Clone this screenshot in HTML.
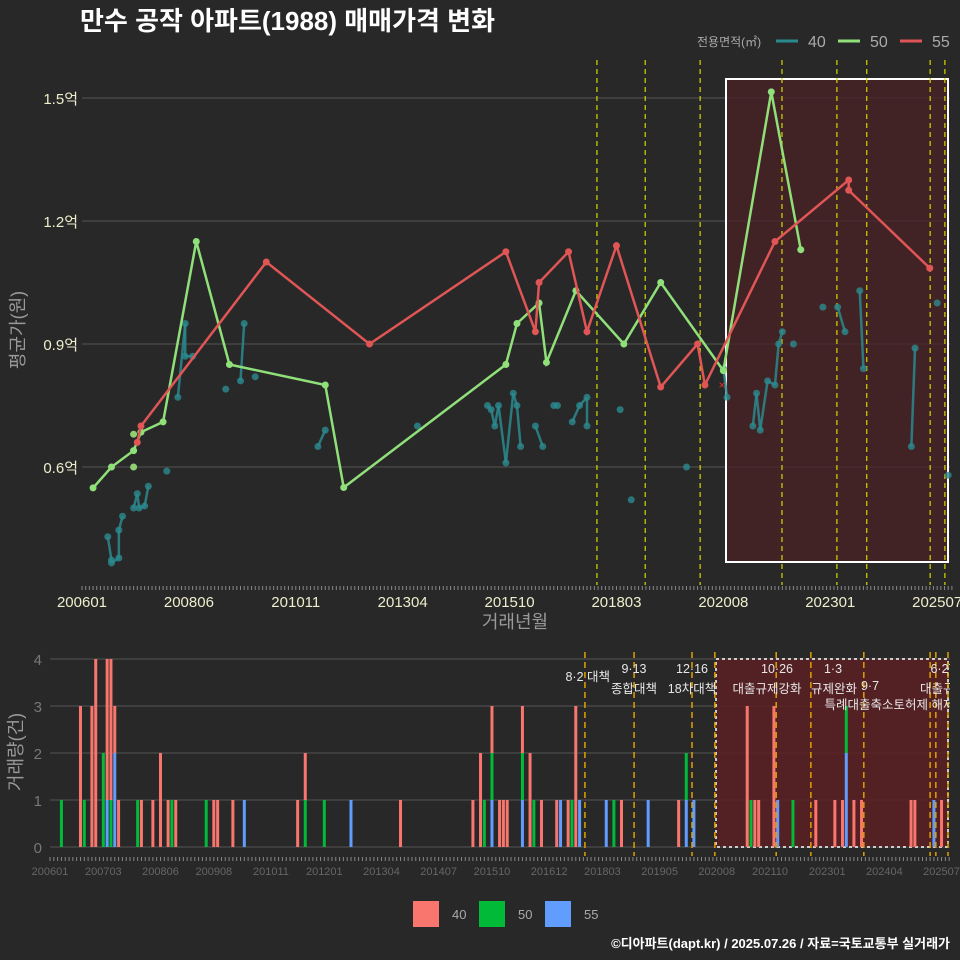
<!DOCTYPE html>
<html><head><meta charset="utf-8">
<style>
body{margin:0;background:#282828;}
svg{display:block;font-family:"Liberation Sans","Noto Sans CJK KR",sans-serif;}
</style></head>
<body>
<svg id="c" width="960" height="960" viewBox="0 0 960 960" xmlns="http://www.w3.org/2000/svg">
<rect x="0" y="0" width="960" height="960" fill="#282828"/>
<text x="80" y="30" fill="#ffffff" font-size="26" font-weight="bold">만수 공작 아파트(1988) 매매가격 변화</text>
<g id="legendTop">
<text x="697" y="46" fill="#aaaaaa" font-size="12">전용면적(㎡)</text>
<line x1="776" y1="41" x2="798" y2="41" stroke="#2a8a8e" stroke-width="3"/>
<text x="808" y="47" fill="#aaaaaa" font-size="16">40</text>
<line x1="838" y1="41" x2="860" y2="41" stroke="#90e07a" stroke-width="3"/>
<text x="870" y="47" fill="#aaaaaa" font-size="16">50</text>
<line x1="900" y1="41" x2="922" y2="41" stroke="#e05555" stroke-width="3"/>
<text x="932" y="47" fill="#aaaaaa" font-size="16">55</text>
</g>
<g id="topG"></g>
<g id="botG"></g>
<g>
<rect x="413" y="901" width="26" height="26" fill="#f8766d"/>
<text x="452" y="919" fill="#aaaaaa" font-size="13">40</text>
<rect x="479" y="901" width="26" height="26" fill="#00ba38"/>
<text x="518" y="919" fill="#aaaaaa" font-size="13">50</text>
<rect x="545" y="901" width="26" height="26" fill="#619cff"/>
<text x="584" y="919" fill="#aaaaaa" font-size="13">55</text>
</g>
<text x="950" y="948" text-anchor="end" fill="#ffffff" font-size="13" font-weight="bold">©디아파트(dapt.kr) / 2025.07.26 / 자료=국토교통부 실거래가</text>
</svg>
<script>
const s50Months=[3,8,14,16,22,31,40,66,71,115,118,124,126,134,147,157,174,187,195];
const s50Values=[0.549,0.60,0.64,0.685,0.71,1.15,0.85,0.80,0.55,0.85,0.95,1.0,0.855,1.03,0.90,1.05,0.835,1.515,1.13];
const s50ExtraMonths=[14,14];
const s50ExtraValues=[0.68,0.60];
const s55Months=[15,16,50,78,115,123,124,132,137,145,157,167,169,188,208,208,230];
const s55Values=[0.66,0.70,1.10,0.90,1.125,0.93,1.05,1.125,0.93,1.14,0.795,0.90,0.80,1.15,1.30,1.275,1.085];
const s40Months=[7,8,8,10,10,11,14,15,15.5,17,18,23,26,28,28,30,39,43,44,47,64,66,91,110,111,112,113,115,117,118,119,123,125,128,129,133,135,137,137,146,149,164,174,175,182,183,184,186,188,189,190,193,201,205,207,211,212,225,226,232,235];
const s40Values=[0.43,0.373,0.366,0.378,0.446,0.48,0.50,0.535,0.50,0.505,0.553,0.59,0.77,0.95,0.87,0.87,0.79,0.81,0.95,0.82,0.65,0.69,0.70,0.75,0.74,0.70,0.75,0.61,0.78,0.75,0.65,0.70,0.65,0.75,0.75,0.71,0.75,0.77,0.70,0.74,0.52,0.60,0.84,0.77,0.70,0.78,0.69,0.81,0.80,0.90,0.93,0.90,0.99,0.99,0.93,1.03,0.84,0.65,0.89,1.0,0.58];
const yTicks=[0.6,0.9,1.2,1.5];
const yTickLabels=["0.6억","0.9억","1.2억","1.5억"];
const xTickMonths=[0,29,58,87,116,145,174,203,232];
const xTickLabels=["200601","200806","201011","201304","201510","201803","202008","202301","202507"];
const policyMonths=[139.7,152.8,167.7,189.9,204.8,212.9,230.1,234.1];
const v40Months=[8,11,12,15,16,17,18,24,27,29,31,33,43,44,48,65,67,92,111,113,116,118,119,120,124,126,129,133,136,138,150,165,183,185,186,190,201,206,208,211,213,226,227,234];
const v40Counts=[3,3,4,3,3,1,1,1,1,2,1,1,1,1,1,1,1,1,1,2,1,1,1,1,1,2,1,1,1,3,1,1,3,1,1,3,1,1,1,1,1,1,1,1];
const v50Months=[3,9,14,16,23,32,41,67,72,114,116,124,127,137,148,167,184,195,209];
const v50Counts=[1,1,2,1,1,1,1,1,1,1,1,1,1,1,1,1,1,1,1];
const v55Months=[15,17,51,79,116,124,134,139,146,157,167,169,191,209,232];
const v55Counts=[1,2,1,1,1,1,1,1,1,1,1,1,1,2,1];
const vTicks=[0,1,2,3,4];
const vTickMonths=[0,14,29,43,58,72,87,102,116,131,145,160,175,189,204,219,234];
const vTickLabels=["200601","200703","200806","200908","201011","201201","201304","201407","201510","201612","201803","201905","202008","202110","202301","202404","202507"];
const vPolicyMonths=[140.4,153.3,168.5,174.5,190.6,199.7,213.6,231,232.5,235.7];

const NS="http://www.w3.org/2000/svg";
function mk(parent,tag,attrs){const e=document.createElementNS(NS,tag);for(const k in attrs)e.setAttribute(k,attrs[k]);parent.appendChild(e);return e;}
const xT=m=>82+m*3.686, yT=v=>467-(v-0.6)*410;
const xB=m=>50+m*3.81, yB=c=>847-c*47;
const topG=document.getElementById('topG'), botG=document.getElementById('botG');

yTicks.forEach((t,i)=>{
 const g=mk(topG,'line',{x1:82,x2:950,y1:yT(t),y2:yT(t),stroke:'#555555','stroke-width':1});
 
 
 const l=mk(topG,'text',{x:78,y:yT(t)+6,'text-anchor':'end',fill:'#eeeecc','font-size':15});
 l.textContent=yTickLabels[i];
 
 
});
const sr=mk(topG,'rect',{x:726,y:79,width:222,height:483,fill:'#4a2226','fill-opacity':0.75,stroke:'#ffffff','stroke-width':2});


policyMonths.forEach(m=>{
 const d=mk(topG,'line',{x1:xT(m),x2:xT(m),y1:60,y2:585,stroke:'#d6d600','stroke-width':1.2,'stroke-dasharray':'5,4'});
 
 
});
for(let m=0;m<=236;m++){
 const t=mk(topG,'line',{x1:xT(m),x2:xT(m),y1:586,y2:590,stroke:'#888','stroke-width':1});
 
 
 const tb=mk(botG,'line',{x1:xB(m),x2:xB(m),y1:857,y2:861,stroke:'#888','stroke-width':1});
 
 
}
xTickMonths.forEach((m,i)=>{
 const l=mk(topG,'text',{x:xT(m),y:607,'text-anchor':'middle',fill:'#eeeecc','font-size':15});
 l.textContent=xTickLabels[i];
 
 
});
const xt=mk(topG,'text',{x:515,y:628,'text-anchor':'middle',fill:'#999','font-size':18});
xt.textContent='거래년월';


const yt=mk(topG,'text',{x:0,y:0,'text-anchor':'middle',fill:'#999','font-size':18,transform:'translate(24,330) rotate(-90)'});
yt.textContent='평균가(원)';



const tealC='#2a8a8e';
for(let i=1;i<s40Months.length;i++){
 const dm=s40Months[i]-s40Months[i-1];
 if(dm<=2){
  const s=mk(topG,'line',{x1:xT(s40Months[i-1]),y1:yT(s40Values[i-1]),x2:xT(s40Months[i]),y2:yT(s40Values[i]),stroke:tealC,'stroke-width':2.5,'stroke-opacity':0.85});
  
  
 }
}
s40Months.forEach((m,i)=>{
 const c=mk(topG,'circle',{cx:xT(m),cy:yT(s40Values[i]),r:3.5,fill:tealC,'fill-opacity':0.8});
 
 
});
function series(months,vals,color,name){
 const p=mk(topG,'polyline',{points:months.map((m,i)=>xT(m)+','+yT(vals[i])).join(' '),fill:'none',stroke:color,'stroke-width':2.5});
 
 
 months.forEach((m,i)=>{
  const c=mk(topG,'circle',{cx:xT(m),cy:yT(vals[i]),r:3.5,fill:color});
  
  
 });
}
s50ExtraMonths.forEach((m,i)=>{
 const c=mk(topG,'circle',{cx:xT(m),cy:yT(s50ExtraValues[i]),r:3.5,fill:'#8fcf70'});
 
 
});
series(s50Months,s50Values,'#90e07a','series-50');
series(s55Months,s55Values,'#e05555','series-55');
const xm=mk(topG,'text',{x:722,y:389,'text-anchor':'middle',fill:'#e03030','font-size':12});
xm.textContent='×';



vTicks.forEach(t=>{
 const g=mk(botG,'line',{x1:50,x2:950,y1:yB(t),y2:yB(t),stroke:'#555','stroke-width':1});
 
 
 const l=mk(botG,'text',{x:42,y:yB(t)+6,'text-anchor':'end',fill:'#777','font-size':15});
 l.textContent=t;
 
 
});
const br=mk(botG,'rect',{x:716,y:659,width:232,height:188,fill:'#5a1f22','fill-opacity':0.85,stroke:'#cccccc','stroke-width':2,'stroke-dasharray':'3,3'});


const base={};
function bars(months,counts,color,name){
 months.forEach((m,i)=>{
  const b0=base[m]||0;
  const r=mk(botG,'rect',{x:xB(m)-1.5,y:yB(b0+counts[i]),width:3,height:counts[i]*47,fill:color});
  
  
  base[m]=b0+counts[i];
 });
}
bars(v55Months,v55Counts,'#619cff','bar-55');
bars(v50Months,v50Counts,'#00ba38','bar-50');
bars(v40Months,v40Counts,'#f8766d','bar-40');
vPolicyMonths.forEach(m=>{
 const d=mk(botG,'line',{x1:xB(m),x2:xB(m),y1:652,y2:856,stroke:'#e0a000','stroke-width':1.5,'stroke-dasharray':'6,4'});
 
 
});
const notes=[["8·2 대책",610,681,"end"],["9·13",634,673,"middle"],["종합대책",634,693,"middle"],["12·16",692,673,"middle"],["18차대책",692,693,"middle"],["10·26",777,673,"middle"],["대출규제강화",767,693,"middle"],["1·3",833,673,"middle"],["규제완화",834,693,"middle"],["9·7",870,690,"middle"],["특례대출축소",859,709,"middle"],["토허제 해제",924,709,"middle"],["6·27",943,673,"middle"],["대출규제",943,693,"middle"]];
notes.forEach(n=>{
 const t=mk(botG,'text',{x:n[1],y:n[2],'text-anchor':n[3],fill:'#e8e8e8','font-size':12.5});
 t.textContent=n[0];
 
 
});
const cover=mk(botG,'rect',{x:950,y:640,width:10,height:90,fill:'#282828'});


vTickMonths.forEach((m,i)=>{
 const l=mk(botG,'text',{x:xB(m),y:875,'text-anchor':'middle',fill:'#666','font-size':11});
 l.textContent=vTickLabels[i];
 
 
});
const vy=mk(botG,'text',{x:0,y:0,'text-anchor':'middle',fill:'#999','font-size':18,transform:'translate(22,752) rotate(-90)'});
vy.textContent='거래량(건)';


</script>
</body></html>
